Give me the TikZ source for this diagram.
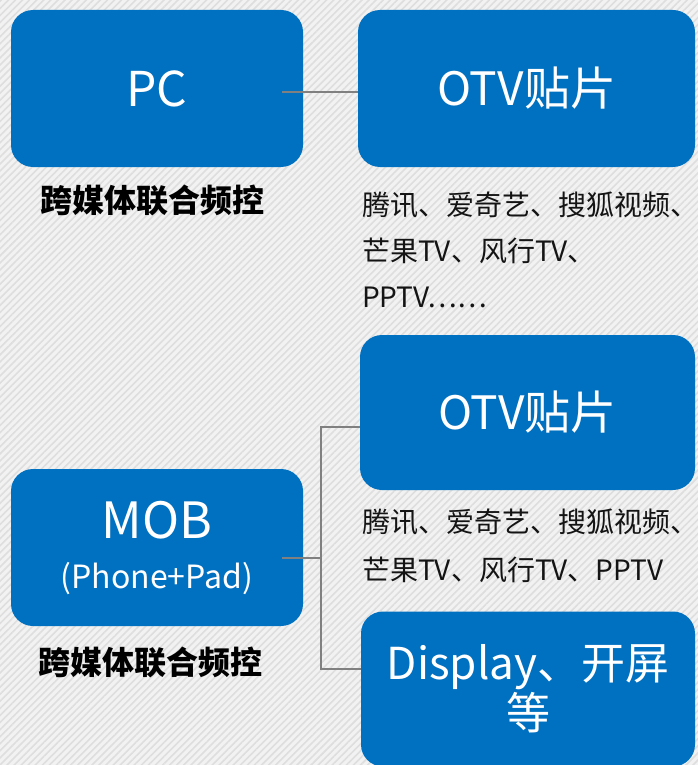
\documentclass[tikz,border=0pt]{standalone}
\usepackage{fontspec}
\setmainfont{Noto Sans CJK SC}
\usetikzlibrary{patterns.meta}
\definecolor{boxblue}{HTML}{0070C0}
\definecolor{bgc}{HTML}{F2F2F2}
\definecolor{stripe}{HTML}{DEDEDE}
\definecolor{conng}{HTML}{808080}
\tikzset{
  bluebox/.style={draw=none, fill=boxblue, rounded corners=22pt, text=white, align=center, inner sep=0pt},
  conn/.style={draw=conng, line width=2pt},
  desc/.style={anchor=base west, inner sep=0pt, font=\fontsize{28}{34}\selectfont, text=black!92},
  boldlbl/.style={anchor=center, inner sep=0pt, font=\bfseries\fontsize{32}{36}\selectfont, text=black},
}
\begin{document}
\begin{tikzpicture}[x=1pt,y=-1pt]
\useasboundingbox (0,0) rectangle (698,765);
\fill[bgc] (0,0) rectangle (698,765);
\fill[pattern={Lines[angle=45,distance=5pt,line width=1.6pt]}, pattern color=stripe] (0,0) rectangle (698,765);

\node[bluebox, minimum width=292pt, minimum height=157pt, font=\fontsize{48}{56}\selectfont] (pc) at (157,88.5) {PC};
\node[bluebox, minimum width=337pt, minimum height=157pt, font=\fontsize{46}{54}\selectfont] (otv1) at (526.5,88.5) {OTV贴片};
\node[bluebox, minimum width=335pt, minimum height=155pt, font=\fontsize{46}{54}\selectfont] (otv2) at (527.5,412.5) {OTV贴片};
\node[bluebox, minimum width=334pt, minimum height=155pt, font=\fontsize{44}{50}\selectfont] (disp) at (528,689) {Display、开屏\\等};
\node[bluebox, minimum width=292pt, minimum height=157pt, font=\fontsize{32}{50}\selectfont] (mob) at (157,547.5) {{\fontsize{50}{50}\selectfont MOB}\\(Phone+Pad)};

\node[boldlbl] (lbl1) at (152,200) {跨媒体联合频控};
\node[boldlbl] (lbl2) at (150,662) {跨媒体联合频控};

\node[desc] (d1a) at (362,215) {腾讯、爱奇艺、搜狐视频、};
\node[desc] (d1b) at (362,261) {芒果TV、风行TV、};
\node[desc] (d1c) at (362,307) {PPTV……};
\node[desc] (d2a) at (362,532) {腾讯、爱奇艺、搜狐视频、};
\node[desc] (d2b) at (362,580) {芒果TV、风行TV、PPTV};

\draw[conn] ([xshift=-21pt,yshift=-3.5pt]pc.east) -- ([yshift=-3.5pt]otv1.west);
\coordinate (jn) at (321,558);
\draw[conn] ([xshift=-21pt]mob.east |- jn) -- (jn);
\draw[conn] ([yshift=-14.5pt]otv2.west) -| (jn) |- ([yshift=20pt]disp.west);
\end{tikzpicture}
\end{document}
